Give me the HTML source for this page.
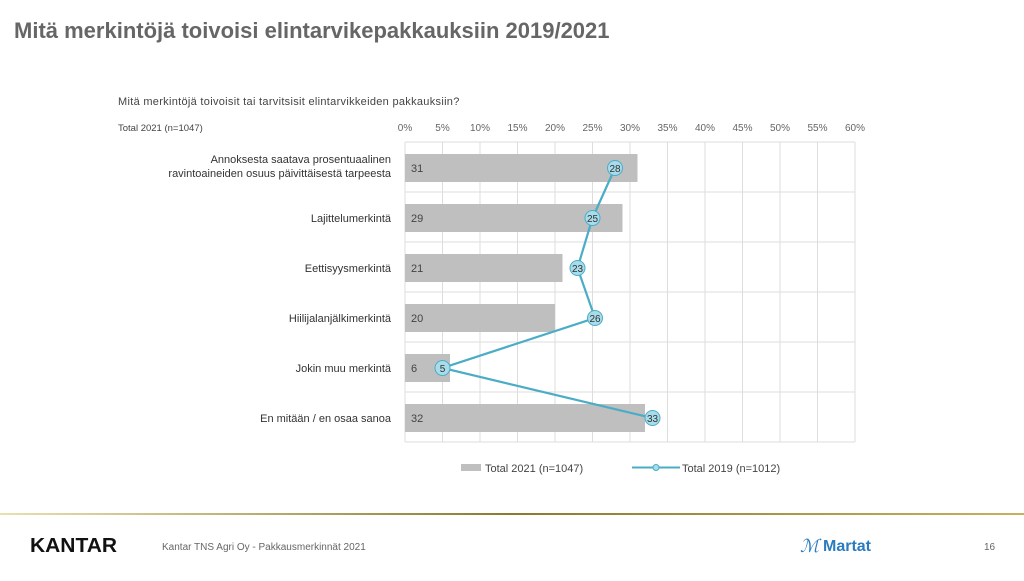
<!DOCTYPE html>
<html><head><meta charset="utf-8"><style>
body{margin:0;width:1024px;height:576px;background:#fff;overflow:hidden;font-family:"Liberation Sans",sans-serif}
</style></head><body>
<svg width="1024" height="576" xmlns="http://www.w3.org/2000/svg" font-family="Liberation Sans, sans-serif">
<defs><linearGradient id="g" x1="0" x2="1"><stop offset="0" stop-color="#e8e0b0"/><stop offset="0.5" stop-color="#8a7a30"/><stop offset="1" stop-color="#c8b060"/></linearGradient></defs>
<text x="14" y="38" font-size="22" font-weight="bold" fill="#666">Mitä merkintöjä toivoisi elintarvikepakkauksiin 2019/2021</text>
<text x="118" y="105" font-size="11" fill="#444" letter-spacing="0.3">Mitä merkintöjä toivoisit tai tarvitsisit elintarvikkeiden pakkauksiin?</text>
<text x="118" y="131" font-size="9.5" fill="#444">Total 2021 (n=1047)</text>
<g font-size="10" fill="#666" text-anchor="middle">
<text x="405" y="131">0%</text><text x="442.5" y="131">5%</text><text x="480" y="131">10%</text><text x="517.5" y="131">15%</text><text x="555" y="131">20%</text><text x="592.5" y="131">25%</text><text x="630" y="131">30%</text><text x="667.5" y="131">35%</text><text x="705" y="131">40%</text><text x="742.5" y="131">45%</text><text x="780" y="131">50%</text><text x="817.5" y="131">55%</text><text x="855" y="131">60%</text>
</g>
<g stroke="#ddd" stroke-width="1">
<line x1="405" y1="142" x2="405" y2="442"/><line x1="442.5" y1="142" x2="442.5" y2="442"/><line x1="480" y1="142" x2="480" y2="442"/><line x1="517.5" y1="142" x2="517.5" y2="442"/><line x1="555" y1="142" x2="555" y2="442"/><line x1="592.5" y1="142" x2="592.5" y2="442"/><line x1="630" y1="142" x2="630" y2="442"/><line x1="667.5" y1="142" x2="667.5" y2="442"/><line x1="705" y1="142" x2="705" y2="442"/><line x1="742.5" y1="142" x2="742.5" y2="442"/><line x1="780" y1="142" x2="780" y2="442"/><line x1="817.5" y1="142" x2="817.5" y2="442"/><line x1="855" y1="142" x2="855" y2="442"/>
<line x1="405" y1="142" x2="855" y2="142"/><line x1="405" y1="192" x2="855" y2="192"/><line x1="405" y1="242" x2="855" y2="242"/><line x1="405" y1="292" x2="855" y2="292"/><line x1="405" y1="342" x2="855" y2="342"/><line x1="405" y1="392" x2="855" y2="392"/><line x1="405" y1="442" x2="855" y2="442"/>
</g>
<g fill="#bfbfbf">
<rect x="405" y="154" width="232.5" height="28"/>
<rect x="405" y="204" width="217.5" height="28"/>
<rect x="405" y="254" width="157.5" height="28"/>
<rect x="405" y="304" width="150" height="28"/>
<rect x="405" y="354" width="45" height="28"/>
<rect x="405" y="404" width="240" height="28"/>
</g>
<g font-size="11" fill="#444">
<text x="411" y="172">31</text><text x="411" y="222">29</text><text x="411" y="272">21</text><text x="411" y="322">20</text><text x="411" y="372">6</text><text x="411" y="422">32</text>
</g>
<g font-size="11" fill="#333" text-anchor="end">
<text x="391" y="163">Annoksesta saatava prosentuaalinen</text>
<text x="391" y="177">ravintoaineiden osuus päivittäisestä tarpeesta</text>
<text x="391" y="222">Lajittelumerkintä</text>
<text x="391" y="272">Eettisyysmerkintä</text>
<text x="391" y="322">Hiilijalanjälkimerkintä</text>
<text x="391" y="372">Jokin muu merkintä</text>
<text x="391" y="422">En mitään / en osaa sanoa</text>
</g>
<polyline points="615,168 592.5,218 577.5,268 595,318 442.5,368 652.5,418" fill="none" stroke="#4bacc6" stroke-width="2.2"/>
<g fill="#a8dcea" stroke="#4bacc6" stroke-width="1">
<circle cx="615" cy="168" r="7.5"/><circle cx="592.5" cy="218" r="7.5"/><circle cx="577.5" cy="268" r="7.5"/><circle cx="595" cy="318" r="7.5"/><circle cx="442.5" cy="368" r="7.5"/><circle cx="652.5" cy="418" r="7.5"/>
</g>
<g font-size="10" fill="#333" text-anchor="middle">
<text x="615" y="172">28</text><text x="592.5" y="222">25</text><text x="577.5" y="272">23</text><text x="595" y="322">26</text><text x="442.5" y="372">5</text><text x="652.5" y="422">33</text>
</g>
<rect x="461" y="464" width="20" height="7" fill="#bfbfbf"/>
<text x="485" y="472" font-size="11" fill="#444">Total 2021 (n=1047)</text>
<line x1="632" y1="467.5" x2="680" y2="467.5" stroke="#4bacc6" stroke-width="2"/>
<circle cx="656" cy="467.5" r="3" fill="#a8dcea" stroke="#4bacc6"/>
<text x="682" y="472" font-size="11" fill="#444">Total 2019 (n=1012)</text>
<rect x="0" y="513" width="1024" height="2" fill="url(#g)"/>
<text x="30" y="552" font-size="20" font-weight="bold" fill="#111" textLength="87" lengthAdjust="spacingAndGlyphs">KANTAR</text>
<text x="162" y="550" font-size="10" fill="#666">Kantar TNS Agri Oy - Pakkausmerkinnät 2021</text>
<text x="800" y="552" font-size="18" fill="#2a7bc0" font-style="italic">ℳ</text>
<text x="823" y="551" font-size="16" font-weight="bold" fill="#2a7bc0">Martat</text>
<text x="984" y="550" font-size="10" fill="#666">16</text>
</svg>
</body></html>
